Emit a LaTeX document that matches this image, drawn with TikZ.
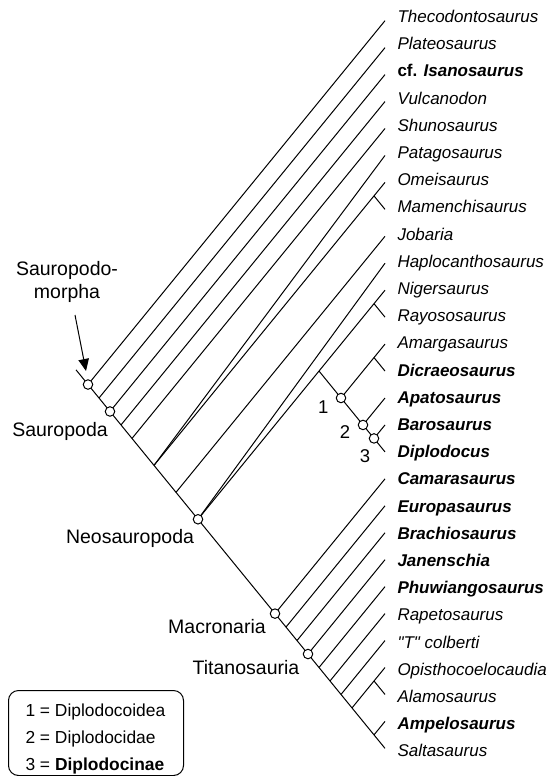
\documentclass[tikz,border=0pt]{standalone}
\usepackage{fontspec}
\setmainfont{Liberation Sans}
\newfontfamily\plainqfont{Liberation Sans}[Ligatures=ResetAll]
\usetikzlibrary{arrows.meta,calc}
\newcommand\cladept[3]{\coordinate (#1) at ({385-(#3-#2)*11},{20.7+26.95*(#2+#3)/2});}
\newcommand\ti[1]{\textit{#1}}
\newcommand\tbi[1]{\textbf{\textit{#1}}}
\begin{document}
\begin{tikzpicture}[x=1pt,y=-1pt,line width=1pt,
  nodecirc/.style={circle,draw,fill=white,minimum size=9.5pt,inner sep=0pt,line width=1pt},
  taxon/.style={anchor=base west,inner sep=0pt,font=\fontsize{17}{20}\selectfont},
  cladelbl/.style={anchor=base,inner sep=0pt,font=\fontsize{19.5}{23}\selectfont},
  numlbl/.style={anchor=center,inner sep=0pt,font=\fontsize{18.5}{22}\selectfont},
  legtext/.style={anchor=base west,inner sep=0pt,font=\fontsize{17.4}{20}\selectfont}]
\useasboundingbox (0,0) rectangle (550,776);
% tips
\foreach \i in {0,...,27} { \coordinate (t\i) at (385,{20.7+26.95*\i}); }
% backbone nodes
\foreach \a in {0,1,2,3,4,6,8,10,17,18,19,20,21,22,23,24} { \cladept{b\a}{\a}{27} }
\cladept{om}{6}{7}
\cladept{dip}{10}{16}
\cladept{reb}{10}{11}
\cladept{fl}{12}{16}
\cladept{dic}{12}{13}
\cladept{dd}{14}{16}
\cladept{dn}{15}{16}
\cladept{tt}{24}{25}
\cladept{sa}{26}{27}
\coordinate (root) at ($(b0)+(-12,-14.7)$);
% branches
\draw (root) -- (t27);
\draw (b0) -- (t0);
\draw (b1) -- (t1);
\draw (b2) -- (t2);
\draw (b3) -- (t3);
\draw (b4) -- (t4);
\draw (b6) -- (t5);
\draw (b6) -- (t6);
\draw (om) -- (t7);
\draw (b8) -- (t8);
\draw (b10) -- (t9);
\draw (b10) -- (t10);
\draw (reb) -- (t11);
\draw (dip) -- (t16);
\draw (fl) -- (t12);
\draw (dic) -- (t13);
\draw (dd) -- (t14);
\draw (dn) -- (t15);
\draw (b17) -- (t17);
\draw (b18) -- (t18);
\draw (b19) -- (t19);
\draw (b20) -- (t20);
\draw (b21) -- (t21);
\draw (b22) -- (t22);
\draw (b23) -- (t23);
\draw (b24) -- (t24);
\draw (tt) -- (t25);
\draw (sa) -- (t26);
% circles
\foreach \c in {b0,b2,b10,b17,b20,fl,dd,dn} { \node[nodecirc] (c-\c) at (\c) {}; }
% taxon labels
\node[taxon] (n0) at (397,{22.5+27.2*0}) {\ti{Thecodontosaurus}};
\node[taxon] (n1) at (397,{22.5+27.2*1}) {\ti{Plateosaurus}};
\node[taxon] (n2) at (397,{22.5+27.2*2}) {\textbf{cf. \textit{Isanosaurus}}};
\node[taxon] (n3) at (397,{22.5+27.2*3}) {\ti{Vulcanodon}};
\node[taxon] (n4) at (397,{22.5+27.2*4}) {\ti{Shunosaurus}};
\node[taxon] (n5) at (397,{22.5+27.2*5}) {\ti{Patagosaurus}};
\node[taxon] (n6) at (397,{22.5+27.2*6}) {\ti{Omeisaurus}};
\node[taxon] (n7) at (397,{22.5+27.2*7}) {\ti{Mamenchisaurus}};
\node[taxon] (n8) at (397,{22.5+27.2*8}) {\ti{Jobaria}};
\node[taxon] (n9) at (397,{22.5+27.2*9}) {\ti{Haplocanthosaurus}};
\node[taxon] (n10) at (397,{22.5+27.2*10}) {\ti{Nigersaurus}};
\node[taxon] (n11) at (397,{22.5+27.2*11}) {\ti{Rayososaurus}};
\node[taxon] (n12) at (397,{22.5+27.2*12}) {\ti{Amargasaurus}};
\node[taxon] (n13) at (397,{22.5+27.2*13}) {\tbi{Dicraeosaurus}};
\node[taxon] (n14) at (397,{22.5+27.2*14}) {\tbi{Apatosaurus}};
\node[taxon] (n15) at (397,{22.5+27.2*15}) {\tbi{Barosaurus}};
\node[taxon] (n16) at (397,{22.5+27.2*16}) {\tbi{Diplodocus}};
\node[taxon] (n17) at (397,{22.5+27.2*17}) {\tbi{Camarasaurus}};
\node[taxon] (n18) at (397,{22.5+27.2*18}) {\tbi{Europasaurus}};
\node[taxon] (n19) at (397,{22.5+27.2*19}) {\tbi{Brachiosaurus}};
\node[taxon] (n20) at (397,{22.5+27.2*20}) {\tbi{Janenschia}};
\node[taxon] (n21) at (397,{22.5+27.2*21}) {\tbi{Phuwiangosaurus}};
\node[taxon] (n22) at (397,{22.5+27.2*22}) {\ti{Rapetosaurus}};
\node[taxon] (n23) at (397,{22.5+27.2*23}) {{\plainqfont\itshape "T" colberti}};
\node[taxon] (n24) at (397,{22.5+27.2*24}) {\ti{Opisthocoelocaudia}};
\node[taxon] (n25) at (397,{22.5+27.2*25}) {\ti{Alamosaurus}};
\node[taxon] (n26) at (397,{22.5+27.2*26}) {\tbi{Ampelosaurus}};
\node[taxon] (n27) at (397,{22.5+27.2*27}) {\ti{Saltasaurus}};
% clade labels
\node[anchor=center,inner sep=0pt,align=center,font=\fontsize{19.5}{23}\selectfont] (smorph) at (67,282) {Sauropodo-\\morpha};
\coordinate (atail) at (75,315);
\coordinate (ahead) at (86,371);
\draw[-{Triangle[length=12pt,width=10.5pt]}] (atail) -- (ahead);
\node[cladelbl] (lsaur) at (60,436) {Sauropoda};
\node[cladelbl] (lneo) at (130,543) {Neosauropoda};
\node[cladelbl] (lmac) at (217,633) {Macronaria};
\node[cladelbl] (ltit) at (246,674) {Titanosauria};
\node[numlbl] (l1) at (323.3,406.7) {1};
\node[numlbl] (l2) at (345,431.7) {2};
\node[numlbl] (l3) at (365,456) {3};
% legend
\node[draw,rounded corners=10pt,anchor=north west,minimum width=175pt,minimum height=85pt,inner sep=0pt,line width=1pt] (legend) at (8,690) {};
\node[legtext] (leg1) at (25,716) {1 = Diplodocoidea};
\node[legtext] (leg2) at (25,743) {2 = Diplodocidae};
\node[legtext] (leg3) at (25,770) {3 = \textbf{Diplodocinae}};
\end{tikzpicture}
\end{document}
